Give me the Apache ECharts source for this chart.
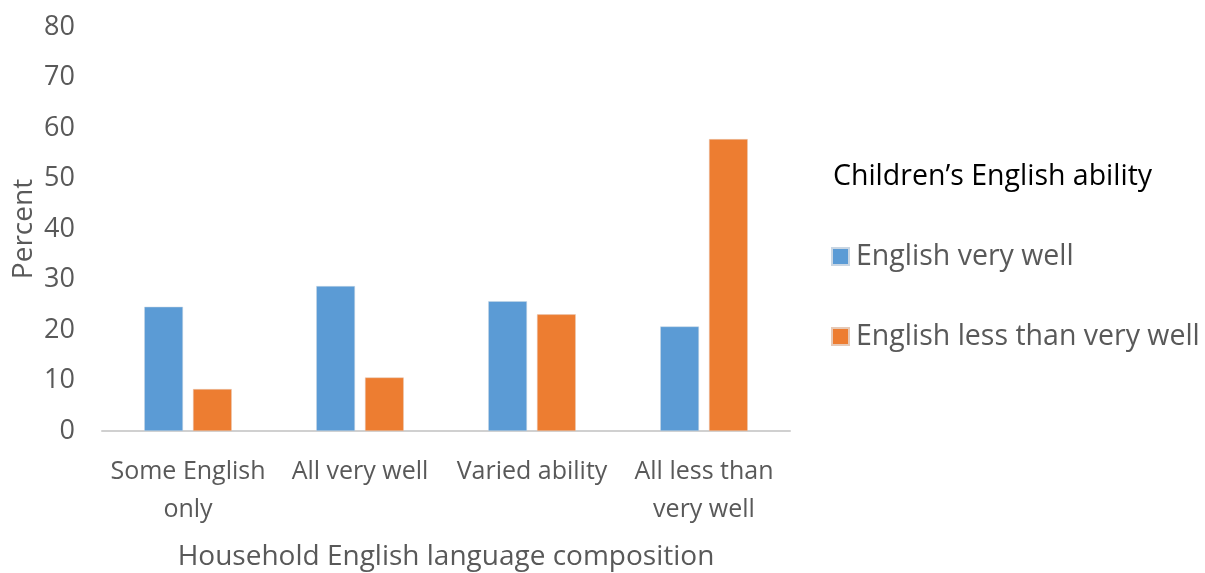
<!DOCTYPE html>
<html>
<head>
<meta charset="utf-8">
<script src="https://cdn.jsdelivr.net/npm/echarts@6/dist/echarts.min.js"></script>
<style>
  html, body { margin: 0; padding: 0; background: #fff; }
  #chart { width: 1205px; height: 573px; }
</style>
</head>
<body>
<div id="chart"></div>
<script>
// Household composition categories on the x axis
const categories = ['Some English\nonly', 'All very well', 'Varied ability', 'All less than\nvery well'];
// Share of children (percent) by English ability
const veryWell = [24.6, 28.7, 25.7, 20.7];
const lessThanVeryWell = [8.3, 10.6, 23.1, 57.8];
const seriesNames = ['English very well', 'English less than very well'];
const yTicks = { min: 0, max: 80, interval: 10 };

const FONT = 'Open Sans';
const chart = echarts.init(document.getElementById('chart'));
chart.setOption({
  animation: false,
  textStyle: { fontFamily: FONT },
  title: {
    text: 'Children\u2019s English ability',
    left: 828, top: 157,
    textStyle: { fontFamily: FONT, fontSize: 28.5, fontWeight: 'normal', color: '#000' }
  },
  legend: {
    orient: 'vertical',
    left: 826, top: 237,
    itemWidth: 17, itemHeight: 17, itemGap: 51,
    icon: 'rect',
    textStyle: { fontFamily: FONT, fontSize: 28.5, color: '#595959', padding: [0, 0, 0, 2] },
    data: seriesNames
  },
  grid: { left: 102, right: 415, top: 27, bottom: 142, containLabel: false, outerBoundsMode: 'none' },
  xAxis: {
    type: 'category',
    data: categories,
    axisLine: { lineStyle: { color: '#d0d0d0', width: 2 } },
    axisTick: { show: false },
    axisLabel: { fontFamily: FONT, fontSize: 25, color: '#595959', lineHeight: 38, margin: 22, interval: 0 },
    name: 'Household English language composition',
    nameLocation: 'middle',
    nameGap: 112,
    nameMoveOverlap: false,
    nameTextStyle: { fontFamily: FONT, fontSize: 28, color: '#595959' }
  },
  yAxis: {
    type: 'value',
    min: yTicks.min, max: yTicks.max, interval: yTicks.interval,
    splitLine: { show: false },
    axisLine: { show: false },
    axisTick: { show: false },
    axisLabel: { fontFamily: FONT, fontSize: 27, color: '#595959', margin: 27 },
    name: 'Percent',
    nameLocation: 'middle',
    nameGap: 64,
    nameMoveOverlap: false,
    nameTextStyle: { fontFamily: FONT, fontSize: 28, color: '#595959' }
  },
  series: [
    {
      name: seriesNames[0], type: 'bar', data: veryWell,
      barWidth: '22.5%', barGap: '26%',
      itemStyle: { color: '#5b9bd5', borderColor: '#c9d6e3', borderWidth: 0.5 }
    },
    {
      name: seriesNames[1], type: 'bar', data: lessThanVeryWell,
      barWidth: '22.5%', barGap: '26%',
      itemStyle: { color: '#ed7d31', borderColor: '#e6c9b6', borderWidth: 0.5 }
    }
  ]
});
</script>
</body>
</html>
